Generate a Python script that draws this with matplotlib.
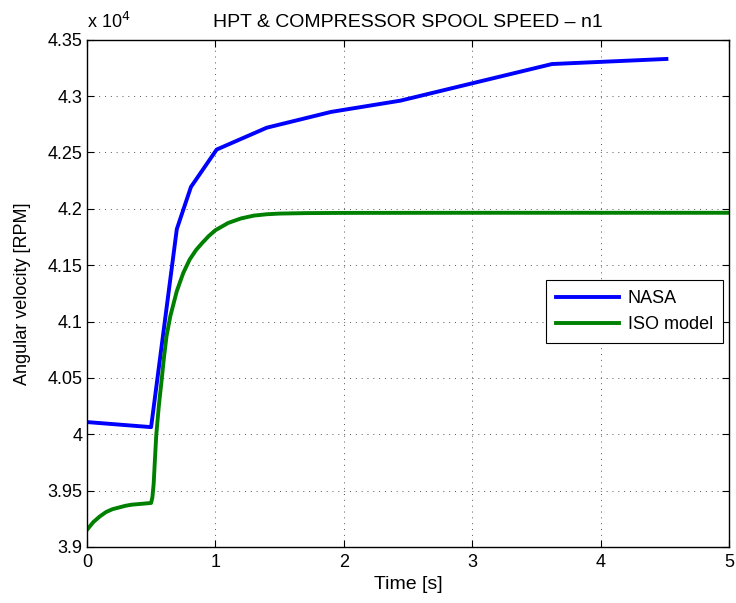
import numpy as np
import matplotlib
matplotlib.use('Agg')
import matplotlib.pyplot as plt

plt.rcParams['font.family'] = ['Liberation Sans', 'DejaVu Sans']

# NASA reference data (time [s], speed [RPM])
nasa_t = [0.0, 0.5, 0.7, 0.81, 1.01, 1.4, 1.9, 2.44, 3.62, 4.51]
nasa_rpm = [40108, 40063, 41820, 42194, 42526, 42720, 42860, 42960, 43285, 43330]

# ISO model response (time [s], speed [RPM])
iso_t = [0.0, 0.05, 0.1, 0.15, 0.2, 0.25, 0.3, 0.35, 0.4, 0.45, 0.5,
         0.51, 0.52, 0.53, 0.54, 0.56, 0.58, 0.6, 0.62, 0.65, 0.7, 0.75,
         0.8, 0.85, 0.9, 0.95, 1.0, 1.1, 1.2, 1.3, 1.4, 1.5, 1.7, 2.0, 3.0, 5.0]
iso_rpm = [39150, 39220, 39270, 39310, 39335, 39350, 39365, 39375, 39380, 39385, 39390,
           39440, 39560, 39780, 39990, 40250, 40460, 40680, 40870, 41050, 41270, 41430,
           41550, 41635, 41700, 41760, 41810, 41875, 41915, 41940, 41952, 41958, 41962, 41964, 41965, 41965]

xticks = [0, 1, 2, 3, 4, 5]
yticks = [3.9, 3.95, 4.0, 4.05, 4.1, 4.15, 4.2, 4.25, 4.3, 4.35]
ytick_labels = ['3.9', '3.95', '4', '4.05', '4.1', '4.15', '4.2', '4.25', '4.3', '4.35']

fs = 13

fig = plt.figure(figsize=(7.36, 6.03), dpi=100)
ax = fig.add_axes([0.118, 0.093, 0.873, 0.841])

scale = 1e4
ax.plot(nasa_t, np.array(nasa_rpm) / scale, color=(0, 0, 1), lw=2.8, label='NASA')
ax.plot(iso_t, np.array(iso_rpm) / scale, color=(0, 0.5, 0), lw=2.8, label='ISO model')

ax.set_xlim(0, 5)
ax.set_ylim(3.9, 4.35)
ax.set_xticks(xticks)
ax.set_xticklabels([str(v) for v in xticks])
ax.set_yticks(yticks)
ax.set_yticklabels(ytick_labels)
ax.tick_params(direction='in', top=True, right=True, length=5, labelsize=fs, width=0.8)
ax.tick_params(axis='x', pad=5)
ax.tick_params(axis='y', pad=3)
ax.grid(True, linestyle=(0, (1, 5)), color='#555555', linewidth=0.7)
for s in ax.spines.values():
    s.set_linewidth(1.0)

ax.set_title('HPT & COMPRESSOR SPOOL SPEED \u2013 n1', fontsize=14, pad=9)
ax.set_xlabel('Time [s]', fontsize=14, labelpad=4)
ax.set_ylabel('Angular velocity [RPM]', fontsize=fs, labelpad=12)
ax.text(0.0, 1.015, r'x 10$^4$', transform=ax.transAxes, fontsize=fs, va='bottom', ha='left')

leg = ax.legend(loc='upper right', bbox_to_anchor=(0.99, 0.526), borderaxespad=0,
                fancybox=False, edgecolor='k', framealpha=1, fontsize=fs,
                handlelength=3.5, handletextpad=0.5, borderpad=0.55, labelspacing=0.5)
leg.get_frame().set_linewidth(0.8)

fig.savefig('out.png', dpi=100)
